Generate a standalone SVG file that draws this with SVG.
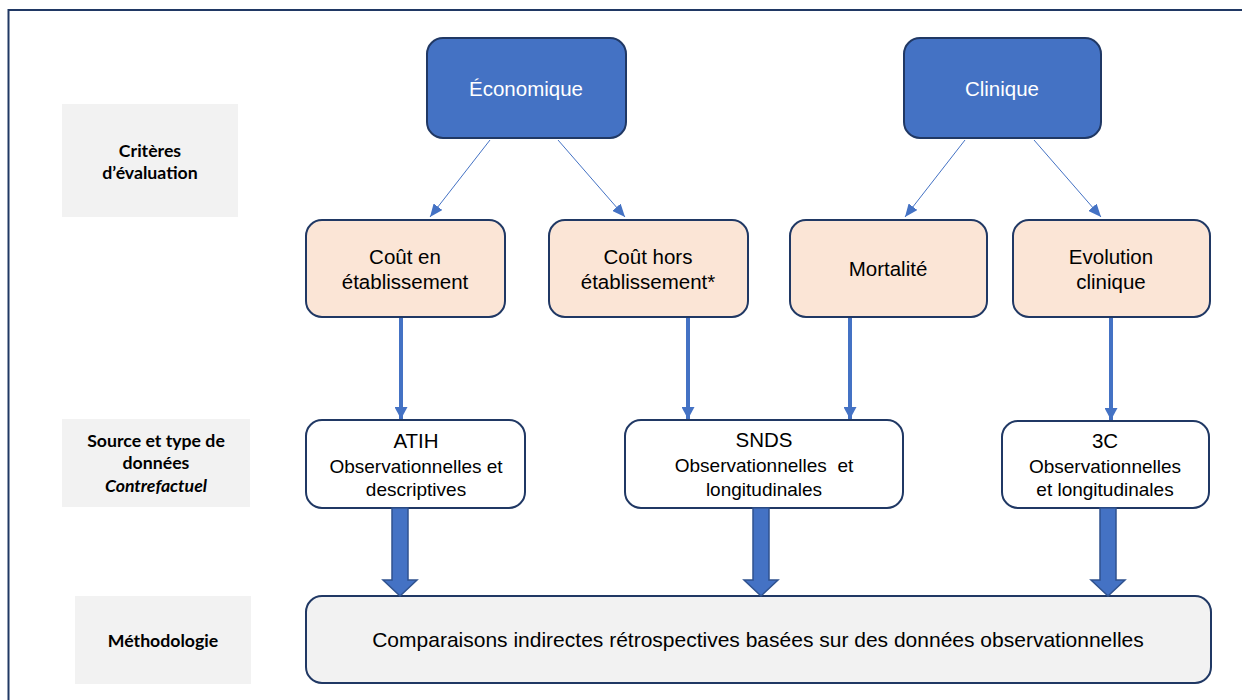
<svg xmlns="http://www.w3.org/2000/svg" width="1242" height="700" viewBox="0 0 1242 700">
<style>
  .frame{fill:none;stroke:#203864;stroke-width:2}
  .lbl{fill:#f2f2f2}
  .lt{font-family:Lato,"Open Sans","Liberation Sans",sans-serif;font-weight:bold;font-size:17.7px;fill:#000;text-anchor:middle}
  .blue{fill:#4472c4;stroke:#203864;stroke-width:2}
  .peach{fill:#fbe5d6;stroke:#203864;stroke-width:2}
  .white{fill:#ffffff;stroke:#203864;stroke-width:2}
  .gray{fill:#f2f2f2;stroke:#203864;stroke-width:2}
  .t{font-family:"Liberation Sans",Arial,sans-serif;font-size:20.5px;fill:#000;text-anchor:middle}
  .tm{font-family:"Liberation Sans",Arial,sans-serif;font-size:21px;fill:#000;text-anchor:middle}
  .ts{font-family:"Liberation Sans",Arial,sans-serif;font-size:19px;fill:#000;text-anchor:middle}
  .tw{fill:#fff}
  .thin{stroke:#4472c4;stroke-width:1;fill:none}
  .thick{stroke:#4472c4;stroke-width:4;fill:none}
  .block{fill:#4472c4;stroke:#2f528f;stroke-width:1.5}
</style>
<defs>
  <marker id="ahThin" viewBox="0 0 13 11" refX="13" refY="5.5" markerWidth="13" markerHeight="11" markerUnits="userSpaceOnUse" orient="auto">
    <path d="M0,0 L13,5.5 L0,11 Z" fill="#4472c4"/>
  </marker>
  <marker id="ahThick" viewBox="0 0 12 13" refX="12" refY="6.5" markerWidth="12" markerHeight="13" markerUnits="userSpaceOnUse" orient="auto">
    <path d="M0,0 L12,6.5 L0,13 Z" fill="#4472c4"/>
  </marker>
</defs>

<path class="frame" d="M8.5,700 L8.5,10 L1242,10"/>

<g id="label-criteres">
  <rect class="lbl" x="62" y="104" width="176" height="113"/>
  <text class="lt" x="150" y="157">Critères</text>
  <text class="lt" x="150" y="179">d’évaluation</text>
</g>
<g id="label-source">
  <rect class="lbl" x="62" y="419" width="188" height="88"/>
  <text class="lt" x="156" y="447">Source et type de</text>
  <text class="lt" x="156" y="469">données</text>
  <text class="lt" x="156" y="492" font-style="italic">Contrefactuel</text>
</g>
<g id="label-methodologie">
  <rect class="lbl" x="75" y="596" width="176" height="88"/>
  <text class="lt" x="163" y="647">Méthodologie</text>
</g>

<g id="node-economique">
  <rect class="blue" x="427" y="38" width="199" height="100" rx="16"/>
  <text class="t tw" x="526" y="96">Économique</text>
</g>
<g id="node-clinique">
  <rect class="blue" x="904" y="38" width="197" height="100" rx="16"/>
  <text class="t tw" x="1002" y="96">Clinique</text>
</g>

<g id="node-cout-en">
  <rect class="peach" x="306" y="220" width="199" height="97" rx="16"/>
  <text class="t" x="405" y="264">Coût en</text>
  <text class="t" x="405" y="289">établissement</text>
</g>
<g id="node-cout-hors">
  <rect class="peach" x="549" y="220" width="199" height="97" rx="16"/>
  <text class="t" x="648" y="264">Coût hors</text>
  <text class="t" x="648" y="289">établissement*</text>
</g>
<g id="node-mortalite">
  <rect class="peach" x="790" y="220" width="197" height="97" rx="16"/>
  <text class="t" x="888" y="276">Mortalité</text>
</g>
<g id="node-evolution">
  <rect class="peach" x="1013" y="220" width="197" height="97" rx="16"/>
  <text class="t" x="1111" y="264">Evolution</text>
  <text class="t" x="1111" y="289">clinique</text>
</g>

<g id="node-atih">
  <rect class="white" x="306" y="420" width="219" height="88" rx="16"/>
  <text class="t" x="416" y="448">ATIH</text>
  <text class="ts" x="416" y="473">Observationnelles et</text>
  <text class="ts" x="416" y="496">descriptives</text>
</g>
<g id="node-snds">
  <rect class="white" x="625" y="420" width="278" height="88" rx="16"/>
  <text class="t" x="764" y="447">SNDS</text>
  <text class="ts" x="764" y="472" xml:space="preserve">Observationnelles  et</text>
  <text class="ts" x="764" y="496">longitudinales</text>
</g>
<g id="node-3c">
  <rect class="white" x="1002" y="421" width="207" height="87" rx="16"/>
  <text class="t" x="1105" y="448">3C</text>
  <text class="ts" x="1105" y="473">Observationnelles</text>
  <text class="ts" x="1105" y="496">et longitudinales</text>
</g>

<g id="node-methodologie">
  <rect class="gray" x="306" y="596" width="905" height="87" rx="16"/>
  <text class="tm" x="758" y="647">Comparaisons indirectes rétrospectives basées sur des données observationnelles</text>
</g>

<g id="connectors">
  <line class="thin" x1="490" y1="140" x2="430" y2="217" marker-end="url(#ahThin)"/>
  <line class="thin" x1="558" y1="140" x2="625" y2="217" marker-end="url(#ahThin)"/>
  <line class="thin" x1="965" y1="140" x2="905" y2="217" marker-end="url(#ahThin)"/>
  <line class="thin" x1="1034" y1="140" x2="1101" y2="217" marker-end="url(#ahThin)"/>
  <line class="thick" x1="401" y1="318" x2="401" y2="419" marker-end="url(#ahThick)"/>
  <line class="thick" x1="688" y1="318" x2="688" y2="419" marker-end="url(#ahThick)"/>
  <line class="thick" x1="850" y1="318" x2="850" y2="419" marker-end="url(#ahThick)"/>
  <line class="thick" x1="1111" y1="318" x2="1111" y2="420" marker-end="url(#ahThick)"/>
  <polygon class="block" points="392,508 408,508 408,580 417,580 400,596 383,580 392,580"/>
  <polygon class="block" points="753,508 769,508 769,580 778,580 761,596 744,580 753,580"/>
  <polygon class="block" points="1100,508 1116,508 1116,580 1125,580 1108,596 1091,580 1100,580"/>
</g>
</svg>
